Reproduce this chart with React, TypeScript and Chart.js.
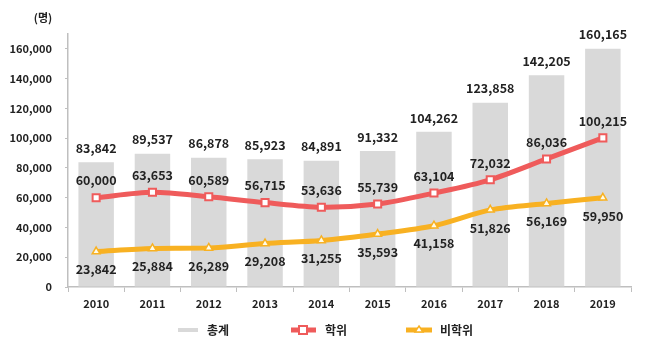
import React, { useEffect, useRef } from "react";
import { Chart, registerables } from "chart.js";

Chart.register(...registerables);

const years = ["2010", "2011", "2012", "2013", "2014", "2015", "2016", "2017", "2018", "2019"];
const totals = [83842, 89537, 86878, 85923, 84891, 91332, 104262, 123858, 142205, 160165];
const degree = [60000, 63653, 60589, 56715, 53636, 55739, 63104, 72032, 86036, 100215];
const nonDegree = [23842, 25884, 26289, 29208, 31255, 35593, 41158, 51826, 56169, 59950];
const yTicks = [0, 20000, 40000, 60000, 80000, 100000, 120000, 140000, 160000];
const legendNames = ["총계", "학위", "비학위"];
const unitLabel = "(명)";

const GRAY = "#d9d9d9";
const RED = "#ef5b5b";
const ORANGE = "#f8b122";
const TEXT = "#222222";
const AXIS = "#bfbfbf";
const FONT = "'Noto Sans CJK KR', 'Noto Sans', sans-serif";

const fmt = (v: number) => v.toLocaleString("en-US");

const labelPlugin = {
  id: "labels",
  afterDatasetsDraw(chart: any) {
    const ctx = chart.ctx;
    ctx.save();
    ctx.font = `bold 12.5px ${FONT}`;
    ctx.fillStyle = TEXT;
    ctx.textAlign = "center";
    ctx.textBaseline = "middle";
    chart.data.datasets.forEach((ds: any, di: number) => {
      const meta = chart.getDatasetMeta(di);
      meta.data.forEach((el: any, i: number) => {
        const v = ds.data[i];
        let y = el.y;
        if (di === 0) y = el.y - 14;
        else if (di === 1) y = el.y - 17;
        else y = el.y + 18;
        ctx.fillText(fmt(v), el.x, y);
      });
    });
    ctx.restore();
  },
  afterDraw(chart: any) {
    const ctx = chart.ctx;
    ctx.save();
    ctx.font = `bold 11px ${FONT}`;
    ctx.fillStyle = TEXT;
    ctx.textAlign = "center";
    ctx.textBaseline = "middle";
    ctx.fillText(unitLabel, 43, 18);

    const ly = 330;
    ctx.font = `bold 12px ${FONT}`;
    ctx.textAlign = "left";
    ctx.strokeStyle = GRAY;
    ctx.lineWidth = 4;
    ctx.beginPath();
    ctx.moveTo(178, ly);
    ctx.lineTo(198, ly);
    ctx.stroke();
    ctx.fillStyle = TEXT;
    ctx.fillText(legendNames[0], 207, ly);

    ctx.strokeStyle = RED;
    ctx.lineWidth = 5;
    ctx.beginPath();
    ctx.moveTo(291, ly);
    ctx.lineTo(316, ly);
    ctx.stroke();
    ctx.fillStyle = "#fff";
    ctx.lineWidth = 2;
    ctx.fillRect(299, ly - 4, 8, 8);
    ctx.strokeRect(299, ly - 4, 8, 8);
    ctx.fillStyle = TEXT;
    ctx.fillText(legendNames[1], 325, ly);

    ctx.strokeStyle = ORANGE;
    ctx.lineWidth = 5;
    ctx.beginPath();
    ctx.moveTo(406, ly);
    ctx.lineTo(432, ly);
    ctx.stroke();
    ctx.fillStyle = "#fff";
    ctx.lineWidth = 1.5;
    ctx.beginPath();
    ctx.moveTo(419, ly - 4);
    ctx.lineTo(423, ly + 2);
    ctx.lineTo(415, ly + 2);
    ctx.closePath();
    ctx.fill();
    ctx.stroke();
    ctx.fillStyle = TEXT;
    ctx.fillText(legendNames[2], 440, ly);
    ctx.restore();
  },
};

export default function App() {
  const ref = useRef<HTMLCanvasElement>(null);
  useEffect(() => {
    document.body.style.margin = "0";
    const chart = new Chart(ref.current as HTMLCanvasElement, {
      type: "bar",
      data: {
        labels: years,
        datasets: [
          {
            type: "bar",
            label: legendNames[0],
            data: totals,
            backgroundColor: GRAY,
            categoryPercentage: 1,
            barPercentage: 0.63,
            order: 2,
          },
          {
            type: "line",
            label: legendNames[1],
            data: degree,
            borderColor: RED,
            borderWidth: 5,
            backgroundColor: "#ffffff",
            pointStyle: "rect",
            pointRadius: 5,
            pointBorderWidth: 2,
            pointBorderColor: RED,
            pointBackgroundColor: "#ffffff",
            tension: 0.3,
            order: 1,
          } as any,
          {
            type: "line",
            label: legendNames[2],
            data: nonDegree,
            borderColor: ORANGE,
            borderWidth: 5,
            backgroundColor: "#ffffff",
            pointStyle: "triangle",
            pointRadius: 4.5,
            pointBorderWidth: 1.5,
            pointBorderColor: ORANGE,
            pointBackgroundColor: "#fffbe8",
            tension: 0.3,
            order: 0,
          } as any,
        ],
      },
      options: {
        responsive: false,
        animation: false,
        layout: { padding: { top: 34, right: 17, bottom: 36, left: 0 } },
        plugins: { legend: { display: false }, tooltip: { enabled: false } },
        scales: {
          x: {
            grid: {
              display: true,
              drawOnChartArea: false,
              drawTicks: true,
              tickLength: 5,
              offset: true,
              color: AXIS,
            },
            border: { display: true, color: AXIS, width: 1.5 },
            ticks: {
              color: TEXT,
              font: { family: FONT, size: 11, weight: "bold" },
              padding: 5,
            },
            afterFit: (s: any) => {
              s.height = 30;
            },
          },
          y: {
            min: 0,
            max: 170000,
            afterBuildTicks: (s: any) => {
              s.ticks = yTicks.map((v) => ({ value: v }));
            },
            grid: {
              display: true,
              drawOnChartArea: false,
              drawTicks: true,
              tickLength: 3,
              color: AXIS,
            },
            border: { display: true, color: AXIS, width: 1.5 },
            ticks: {
              color: TEXT,
              font: { family: FONT, size: 11, weight: "bold" },
              padding: 13,
              callback: (v: any) => fmt(Number(v)),
            },
            afterFit: (s: any) => {
              s.width = 68;
            },
          },
        },
      },
      plugins: [labelPlugin],
    });
    return () => chart.destroy();
  }, []);
  return (
    <div style={{ width: 648, height: 353, background: "#fff" }}>
      <canvas ref={ref} width={648} height={353} style={{ display: "block" }} />
    </div>
  );
}
